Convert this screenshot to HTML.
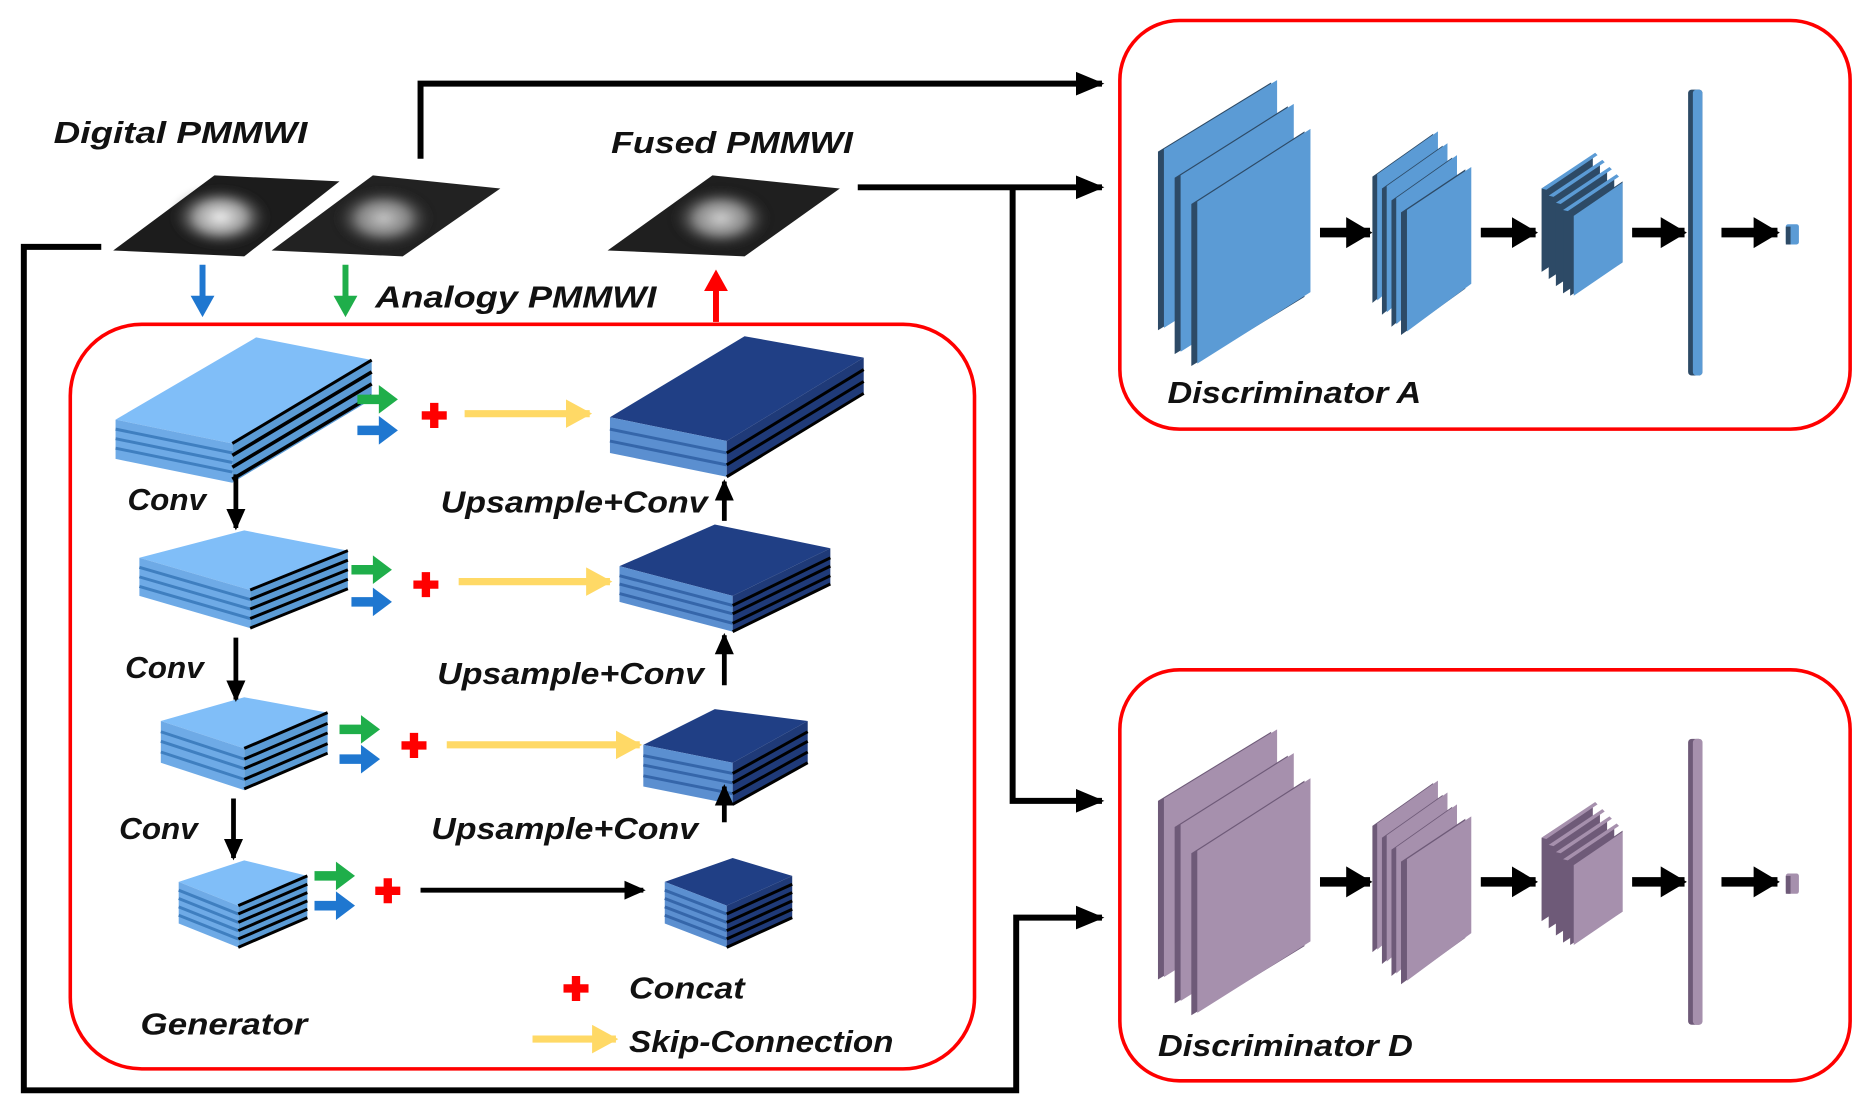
<!DOCTYPE html>
<html><head><meta charset="utf-8"><style>
html,body{margin:0;padding:0;background:#fff;width:1868px;height:1118px;overflow:hidden}
svg{display:block}
text{font-family:"Liberation Sans",sans-serif;font-weight:bold;font-style:italic;fill:#111}
</style></head><body>
<svg width="1868" height="1118" viewBox="0 0 1568 938" xmlns="http://www.w3.org/2000/svg">
<defs>
<marker id="ab" markerUnits="userSpaceOnUse" markerWidth="26" markerHeight="26" refX="22" refY="12" orient="auto"><path d="M0,2 L24,12 L0,22 Z" fill="#000"/></marker>
<marker id="as" markerUnits="userSpaceOnUse" markerWidth="20" markerHeight="20" refX="16" refY="9" orient="auto"><path d="M0,1 L18,9 L0,17 Z" fill="#000"/></marker>
<marker id="ad" markerUnits="userSpaceOnUse" markerWidth="26" markerHeight="28" refX="20" refY="13" orient="auto"><path d="M0,0 L22,13 L0,26 Z" fill="#000"/></marker>
<marker id="ay" markerUnits="userSpaceOnUse" markerWidth="24" markerHeight="26" refX="20" refY="12" orient="auto"><path d="M0,0 L22,12 L0,24 Z" fill="#ffd966"/></marker>
<radialGradient id="blob" cx="50%" cy="50%" r="50%"><stop offset="0" stop-color="#eee"/><stop offset="0.5" stop-color="#999"/><stop offset="1" stop-color="#222" stop-opacity="0"/></radialGradient>
<filter id="bl"><feGaussianBlur stdDeviation="3"/></filter>
</defs>

<rect x="59" y="272" width="759" height="625" rx="60" fill="none" stroke="#f00" stroke-width="3"/>
<rect x="940" y="17" width="613" height="343" rx="50" fill="none" stroke="#f00" stroke-width="3"/>
<rect x="940" y="562" width="613" height="345" rx="50" fill="none" stroke="#f00" stroke-width="3"/>

<g fill="none" stroke="#000" stroke-width="5">
<polyline points="353,133 353,70 925,70" marker-end="url(#ab)"/>
<polyline points="720,157 925,157" marker-end="url(#ab)"/>
<polyline points="850,157 850,672 925,672" marker-end="url(#ab)"/>
<polyline points="85,207 20,207 20,915 853,915 853,770 925,770" marker-end="url(#ab)"/>
</g>

<polygon points="95,210 180,147 285,152 205,215" fill="#1c1c1c"/>
<ellipse cx="185" cy="182" rx="42" ry="26" fill="url(#blob)" filter="url(#bl)"/>
<polygon points="228,210 313,147 420,158 338,215" fill="#222"/>
<ellipse cx="322" cy="183" rx="42" ry="26" fill="url(#blob)" filter="url(#bl)" opacity="0.8"/>
<polygon points="510,210 598,147 705,158 625,215" fill="#1f1f1f"/>
<ellipse cx="605" cy="183" rx="42" ry="26" fill="url(#blob)" filter="url(#bl)" opacity="0.85"/>

<text x="45" y="120" font-size="26" textLength="213" lengthAdjust="spacingAndGlyphs">Digital PMMWI</text>
<text x="513" y="128" font-size="26" textLength="203" lengthAdjust="spacingAndGlyphs">Fused PMMWI</text>
<text x="315" y="258" font-size="26" textLength="236" lengthAdjust="spacingAndGlyphs">Analogy PMMWI</text>

<line x1="170" y1="222" x2="170" y2="250" stroke="#1f77d0" stroke-width="5"/><polygon points="160,248 180,248 170,266" fill="#1f77d0"/>
<line x1="290" y1="222" x2="290" y2="250" stroke="#1fae4a" stroke-width="5"/><polygon points="280,248 300,248 290,266" fill="#1fae4a"/>
<line x1="601" y1="270" x2="601" y2="242" stroke="#f00" stroke-width="5"/><polygon points="591,244 611,244 601,226" fill="#f00"/>

<g stroke-linejoin="round">
<polygon points="97,352 215,283 312,302 195,372" fill="#80bef8"/>
<polygon points="97,352 195,372 195,405 97,385" fill="#6eaae6"/>
<polygon points="195,372 312,302 312,335 195,405" fill="#5b9bd5"/>
<g fill="none" stroke-width="2.5"><polyline points="97,360 195,380" stroke="#3f7fc0"/><polyline points="97,368 195,388" stroke="#3f7fc0"/><polyline points="97,376 195,396" stroke="#3f7fc0"/>
<polyline points="195,372 312,302" stroke="#000"/><polyline points="195,382 312,312" stroke="#000" stroke-width="3"/><polyline points="195,392 312,322" stroke="#000" stroke-width="3"/><polyline points="195,402 312,332" stroke="#000" stroke-width="3"/></g>

<polygon points="117,468 205,445 292,462 210,495" fill="#80bef8"/>
<polygon points="117,468 210,495 210,527 117,500" fill="#6eaae6"/>
<polygon points="210,495 292,462 292,494 210,527" fill="#5b9bd5"/>
<g fill="none" stroke-width="2.5"><polyline points="117,476 210,503" stroke="#3f7fc0"/><polyline points="117,484 210,511" stroke="#3f7fc0"/><polyline points="117,492 210,519" stroke="#3f7fc0"/>
<polyline points="210,495 292,462" stroke="#000"/><polyline points="210,503 292,470" stroke="#000"/><polyline points="210,511 292,478" stroke="#000"/><polyline points="210,519 292,486" stroke="#000"/><polyline points="210,527 292,494" stroke="#000"/></g>

<polygon points="135,605 205,585 275,598 205,628" fill="#80bef8"/>
<polygon points="135,605 205,628 205,663 135,640" fill="#6eaae6"/>
<polygon points="205,628 275,598 275,633 205,663" fill="#5b9bd5"/>
<g fill="none" stroke-width="2.5"><polyline points="135,614 205,637" stroke="#3f7fc0"/><polyline points="135,622 205,645" stroke="#3f7fc0"/><polyline points="135,631 205,654" stroke="#3f7fc0"/>
<polyline points="205,628 275,598" stroke="#000"/><polyline points="205,637 275,607" stroke="#000"/><polyline points="205,645 275,615" stroke="#000"/><polyline points="205,654 275,624" stroke="#000"/><polyline points="205,662 275,632" stroke="#000"/></g>

<polygon points="150,740 205,722 258,735 200,760" fill="#80bef8"/>
<polygon points="150,740 200,760 200,795 150,775" fill="#6eaae6"/>
<polygon points="200,760 258,735 258,770 200,795" fill="#5b9bd5"/>
<g fill="none" stroke-width="2.5"><polyline points="150,747 200,767" stroke="#3f7fc0"/><polyline points="150,754 200,774" stroke="#3f7fc0"/><polyline points="150,761 200,781" stroke="#3f7fc0"/><polyline points="150,768 200,788" stroke="#3f7fc0"/>
<polyline points="200,760 258,735" stroke="#000"/><polyline points="200,767 258,742" stroke="#000"/><polyline points="200,774 258,749" stroke="#000"/><polyline points="200,781 258,756" stroke="#000"/><polyline points="200,788 258,763" stroke="#000"/><polyline points="200,795 258,770" stroke="#000"/></g>

<polygon points="512,350 625,282 725,300 610,370" fill="#203f85"/>
<polygon points="512,350 610,370 610,400 512,380" fill="#5b8fd0"/>
<polygon points="610,370 725,300 725,330 610,400" fill="#1f3a78"/>
<g fill="none" stroke-width="2.5"><polyline points="512,360 610,380" stroke="#3566aa"/><polyline points="512,370 610,390" stroke="#3566aa"/>
<polyline points="610,380 725,310" stroke="#000"/><polyline points="610,390 725,320" stroke="#000"/><polyline points="610,400 725,330" stroke="#000"/></g>

<polygon points="520,475 600,440 697,460 615,500" fill="#203f85"/>
<polygon points="520,475 615,500 615,530 520,505" fill="#5b8fd0"/>
<polygon points="615,500 697,460 697,490 615,530" fill="#1f3a78"/>
<g fill="none" stroke-width="2.5"><polyline points="520,483 615,508" stroke="#3566aa"/><polyline points="520,490 615,515" stroke="#3566aa"/><polyline points="520,498 615,523" stroke="#3566aa"/>
<polyline points="615,508 697,468" stroke="#000"/><polyline points="615,515 697,475" stroke="#000"/><polyline points="615,523 697,483" stroke="#000"/><polyline points="615,530 697,490" stroke="#000"/></g>

<polygon points="540,625 600,595 678,605 615,640" fill="#203f85"/>
<polygon points="540,625 615,640 615,675 540,660" fill="#5b8fd0"/>
<polygon points="615,640 678,605 678,640 615,675" fill="#1f3a78"/>
<g fill="none" stroke-width="2.5"><polyline points="540,634 615,649" stroke="#3566aa"/><polyline points="540,642 615,657" stroke="#3566aa"/><polyline points="540,651 615,666" stroke="#3566aa"/>
<polyline points="615,649 678,614" stroke="#000"/><polyline points="615,657 678,622" stroke="#000"/><polyline points="615,666 678,631" stroke="#000"/><polyline points="615,675 678,640" stroke="#000"/></g>

<polygon points="558,740 615,720 665,735 610,760" fill="#203f85"/>
<polygon points="558,740 610,760 610,795 558,775" fill="#5b8fd0"/>
<polygon points="610,760 665,735 665,770 610,795" fill="#1f3a78"/>
<g fill="none" stroke-width="2.5"><polyline points="558,747 610,767" stroke="#3566aa"/><polyline points="558,754 610,774" stroke="#3566aa"/><polyline points="558,761 610,781" stroke="#3566aa"/><polyline points="558,768 610,788" stroke="#3566aa"/>
<polyline points="610,767 665,742" stroke="#000"/><polyline points="610,774 665,749" stroke="#000"/><polyline points="610,781 665,756" stroke="#000"/><polyline points="610,788 665,763" stroke="#000"/><polyline points="610,795 665,770" stroke="#000"/></g>
</g>

<g stroke="#000" stroke-width="4" fill="none">
<line x1="198" y1="398" x2="198" y2="443" marker-end="url(#as)"/>
<line x1="198" y1="535" x2="198" y2="587" marker-end="url(#as)"/>
<line x1="196" y1="670" x2="196" y2="720" marker-end="url(#as)"/>
<line x1="608" y1="437" x2="608" y2="404" marker-end="url(#as)"/>
<line x1="608" y1="575" x2="608" y2="533" marker-end="url(#as)"/>
<line x1="608" y1="690" x2="608" y2="660" marker-end="url(#as)"/>
<line x1="353" y1="747" x2="540" y2="747" marker-end="url(#as)"/>
</g>

<text x="107" y="428" font-size="26" textLength="66" lengthAdjust="spacingAndGlyphs">Conv</text>
<text x="105" y="569" font-size="26" textLength="66" lengthAdjust="spacingAndGlyphs">Conv</text>
<text x="100" y="704" font-size="26" textLength="66" lengthAdjust="spacingAndGlyphs">Conv</text>
<text x="370" y="430" font-size="26" textLength="224" lengthAdjust="spacingAndGlyphs">Upsample+Conv</text>
<text x="367" y="574" font-size="26" textLength="224" lengthAdjust="spacingAndGlyphs">Upsample+Conv</text>
<text x="362" y="704" font-size="26" textLength="224" lengthAdjust="spacingAndGlyphs">Upsample+Conv</text>
<text x="118" y="868" font-size="26" textLength="140" lengthAdjust="spacingAndGlyphs">Generator</text>
<text x="528" y="838" font-size="26" textLength="97" lengthAdjust="spacingAndGlyphs">Concat</text>
<text x="528" y="883" font-size="26" textLength="222" lengthAdjust="spacingAndGlyphs">Skip-Connection</text>

<g>
<path d="M300,331 h18 v-8 l16,12 l-16,12 v-8 h-18 z" fill="#1fae4a"/>
<path d="M300,357 h18 v-8 l16,12 l-16,12 v-8 h-18 z" fill="#1f77d0"/>
<path d="M295,474 h18 v-8 l16,12 l-16,12 v-8 h-18 z" fill="#1fae4a"/>
<path d="M295,501 h18 v-8 l16,12 l-16,12 v-8 h-18 z" fill="#1f77d0"/>
<path d="M285,608 h18 v-8 l16,12 l-16,12 v-8 h-18 z" fill="#1fae4a"/>
<path d="M285,633 h18 v-8 l16,12 l-16,12 v-8 h-18 z" fill="#1f77d0"/>
<path d="M264,731 h18 v-8 l16,12 l-16,12 v-8 h-18 z" fill="#1fae4a"/>
<path d="M264,756 h18 v-8 l16,12 l-16,12 v-8 h-18 z" fill="#1f77d0"/>
</g>
<g fill="#f00">
<path d="M361,338 h7 v7 h7 v7 h-7 v7 h-7 v-7 h-7 v-7 h7 z"/>
<path d="M354,480 h7 v7 h7 v7 h-7 v7 h-7 v-7 h-7 v-7 h7 z"/>
<path d="M344,615 h7 v7 h7 v7 h-7 v7 h-7 v-7 h-7 v-7 h7 z"/>
<path d="M322,737 h7 v7 h7 v7 h-7 v7 h-7 v-7 h-7 v-7 h7 z"/>
<path d="M480,819 h7 v7 h7 v7 h-7 v7 h-7 v-7 h-7 v-7 h7 z"/>
</g>
<g stroke="#ffd966" stroke-width="6" fill="none">
<line x1="390" y1="347" x2="495" y2="347" marker-end="url(#ay)"/>
<line x1="385" y1="488" x2="512" y2="488" marker-end="url(#ay)"/>
<line x1="375" y1="625" x2="537" y2="625" marker-end="url(#ay)"/>
<line x1="447" y1="872" x2="517" y2="872" marker-end="url(#ay)"/>
</g>

<!-- Discriminator A -->
<g>
<polygon points="972,127 1067,69 1067,219 972,277" fill="#2d4a66"/>
<polygon points="977,125 1072,67 1072,215 977,275" fill="#5b9bd5"/>
<polygon points="986,149 1081,89 1081,239 986,297" fill="#2d4a66"/>
<polygon points="991,147 1086,87 1086,235 991,295" fill="#5b9bd5"/>
<polygon points="1000,171 1095,110 1095,249 1000,307" fill="#2d4a66"/>
<polygon points="1005,169 1100,108 1100,245 1005,305" fill="#5b9bd5"/>

<polygon points="1152,148 1203,112 1203,212 1152,254" fill="#2d4a66"/>
<polygon points="1156,146 1207,110 1207,208 1156,252" fill="#5b9bd5"/>
<polygon points="1160,158 1211,122 1211,222 1160,264" fill="#2d4a66"/>
<polygon points="1164,156 1215,120 1215,218 1164,262" fill="#5b9bd5"/>
<polygon points="1168,168 1219,132 1219,232 1168,274" fill="#2d4a66"/>
<polygon points="1172,166 1223,130 1223,228 1172,272" fill="#5b9bd5"/>
<polygon points="1176,178 1230,142 1230,242 1176,281" fill="#2d4a66"/>
<polygon points="1181,176 1235,140 1235,238 1181,278" fill="#5b9bd5"/>

<polygon points="1294,158 1337,130 1337,200 1294,228" fill="#2d4a66"/>
<polygon points="1300,164 1343,136 1343,206 1300,234" fill="#2d4a66"/>
<polygon points="1306,170 1349,142 1349,212 1306,240" fill="#2d4a66"/>
<polygon points="1312,176 1355,148 1355,218 1312,246" fill="#2d4a66"/>
<polygon points="1294,158 1339,128 1341,130 1298,159" fill="#5b9bd5"/>
<polygon points="1300,164 1345,134 1347,136 1304,165" fill="#5b9bd5"/>
<polygon points="1306,170 1351,140 1353,142 1310,171" fill="#5b9bd5"/>
<polygon points="1312,176 1357,146 1359,148 1316,177" fill="#5b9bd5"/>
<polygon points="1318,182 1362,152 1362,220 1318,248" fill="#2d4a66"/>
<polygon points="1321,181 1362,153 1362,220 1321,248" fill="#5b9bd5"/>

<rect x="1417" y="75" width="12" height="240" rx="3" fill="#2d4a66"/>
<rect x="1421" y="75" width="8" height="240" rx="3" fill="#5b9bd5"/>
<rect x="1499" y="188" width="11" height="17" rx="2" fill="#5b9bd5"/>
<rect x="1499" y="190" width="4" height="15" fill="#2d4a66"/>
<g stroke="#000" stroke-width="8" fill="none">
<line x1="1108" y1="195" x2="1150" y2="195" marker-end="url(#ad)"/>
<line x1="1243" y1="195" x2="1289" y2="195" marker-end="url(#ad)"/>
<line x1="1370" y1="195" x2="1414" y2="195" marker-end="url(#ad)"/>
<line x1="1445" y1="195" x2="1492" y2="195" marker-end="url(#ad)"/>
</g>
</g>
<text x="980" y="338" font-size="26" textLength="213" lengthAdjust="spacingAndGlyphs">Discriminator A</text>

<!-- Discriminator D -->
<g transform="translate(0,545)">
<polygon points="972,127 1067,69 1067,219 972,277" fill="#6e5a78"/>
<polygon points="977,125 1072,67 1072,215 977,275" fill="#a690ad"/>
<polygon points="986,149 1081,89 1081,239 986,297" fill="#6e5a78"/>
<polygon points="991,147 1086,87 1086,235 991,295" fill="#a690ad"/>
<polygon points="1000,171 1095,110 1095,249 1000,307" fill="#6e5a78"/>
<polygon points="1005,169 1100,108 1100,245 1005,305" fill="#a690ad"/>

<polygon points="1152,148 1203,112 1203,212 1152,254" fill="#6e5a78"/>
<polygon points="1156,146 1207,110 1207,208 1156,252" fill="#a690ad"/>
<polygon points="1160,158 1211,122 1211,222 1160,264" fill="#6e5a78"/>
<polygon points="1164,156 1215,120 1215,218 1164,262" fill="#a690ad"/>
<polygon points="1168,168 1219,132 1219,232 1168,274" fill="#6e5a78"/>
<polygon points="1172,166 1223,130 1223,228 1172,272" fill="#a690ad"/>
<polygon points="1176,178 1230,142 1230,242 1176,281" fill="#6e5a78"/>
<polygon points="1181,176 1235,140 1235,238 1181,278" fill="#a690ad"/>

<polygon points="1294,158 1337,130 1337,200 1294,228" fill="#6e5a78"/>
<polygon points="1300,164 1343,136 1343,206 1300,234" fill="#6e5a78"/>
<polygon points="1306,170 1349,142 1349,212 1306,240" fill="#6e5a78"/>
<polygon points="1312,176 1355,148 1355,218 1312,246" fill="#6e5a78"/>
<polygon points="1294,158 1339,128 1341,130 1298,159" fill="#a690ad"/>
<polygon points="1300,164 1345,134 1347,136 1304,165" fill="#a690ad"/>
<polygon points="1306,170 1351,140 1353,142 1310,171" fill="#a690ad"/>
<polygon points="1312,176 1357,146 1359,148 1316,177" fill="#a690ad"/>
<polygon points="1318,182 1362,152 1362,220 1318,248" fill="#6e5a78"/>
<polygon points="1321,181 1362,153 1362,220 1321,248" fill="#a690ad"/>

<rect x="1417" y="75" width="12" height="240" rx="3" fill="#6e5a78"/>
<rect x="1421" y="75" width="8" height="240" rx="3" fill="#a690ad"/>
<rect x="1499" y="188" width="11" height="17" rx="2" fill="#a690ad"/>
<rect x="1499" y="190" width="4" height="15" fill="#6e5a78"/>
<g stroke="#000" stroke-width="8" fill="none">
<line x1="1108" y1="195" x2="1150" y2="195" marker-end="url(#ad)"/>
<line x1="1243" y1="195" x2="1289" y2="195" marker-end="url(#ad)"/>
<line x1="1370" y1="195" x2="1414" y2="195" marker-end="url(#ad)"/>
<line x1="1445" y1="195" x2="1492" y2="195" marker-end="url(#ad)"/>
</g>
</g>
<text x="972" y="886" font-size="26" textLength="214" lengthAdjust="spacingAndGlyphs">Discriminator D</text>
</svg>
</body></html>
